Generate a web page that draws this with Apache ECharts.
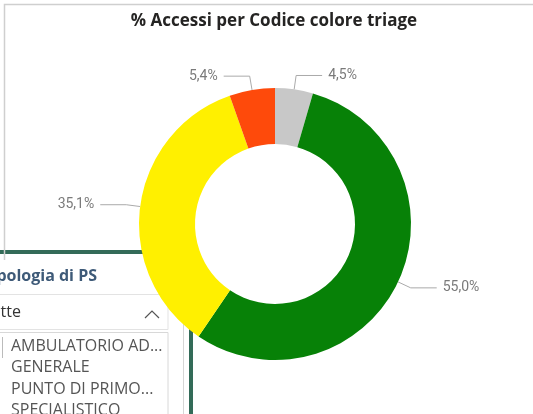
<!DOCTYPE html>
<html>
<head>
<meta charset="utf-8">
<script src="https://cdn.jsdelivr.net/npm/echarts@6/dist/echarts.min.js"></script>
<style>
  html, body { margin: 0; padding: 0; background: #fff; }
  #chart { width: 533px; height: 414px; }
</style>
</head>
<body>
<div id="chart"></div>
<script>
// triage colour codes, clockwise from 12 o'clock
const categories = ['Bianco', 'Verde', 'Giallo', 'Rosso'];
const values = [4.5, 55.0, 35.1, 5.4];
const colors = ['#c8c8c8', '#078107', '#fff000', '#fe4a0b'];

const slicerTitle = 'Tipologia di PS';
const slicerValue = 'Tutte';
const slicerItems = ['AMBULATORIO AD...', 'GENERALE', 'PUNTO DI PRIMO...', 'SPECIALISTICO'];

let chart = echarts.init(document.getElementById('chart'));

let pieData = categories.map((name, i) => ({
    name: name,
    value: values[i],
    itemStyle: { color: colors[i] }
}));

// slicer visual overlapping the donut (bottom left)
let slicer = [
    { type: 'rect', shape: { x: -10, y: 252, width: 201, height: 180 },
      style: { fill: '#fff', stroke: '#336b58', lineWidth: 4 } },
    { type: 'line', shape: { x1: 183.5, y1: 254, x2: 183.5, y2: 414 },
      style: { stroke: '#d6d6d6', lineWidth: 1 } },
    { type: 'text', x: 97, y: 268,
      style: { text: slicerTitle, fill: '#3e5a78', font: 'bold 16px "Open Sans"', textAlign: 'right' } },
    { type: 'rect', shape: { x: -5, y: 294.5, width: 173, height: 35 },
      style: { fill: '#fff', stroke: '#e3e3e3', lineWidth: 1 } },
    { type: 'text', x: 21, y: 304,
      style: { text: slicerValue, fill: '#333', font: '16px "Open Sans"', textAlign: 'right' } },
    { type: 'polyline', shape: { points: [[145, 318], [152, 311], [159, 318]] },
      style: { stroke: '#555', lineWidth: 1.2, fill: null } },
    { type: 'rect', shape: { x: -5, y: 332.5, width: 173, height: 90 },
      style: { fill: '#fff', stroke: '#d8d8d8', lineWidth: 1 } },
    { type: 'line', shape: { x1: 2.5, y1: 337, x2: 2.5, y2: 358 },
      style: { stroke: '#bbb', lineWidth: 1 } }
];
slicerItems.forEach((t, i) => {
    slicer.push({ type: 'text', x: 11, y: 338 + i * 21.5,
        style: { text: t, fill: '#555', font: '16px "Open Sans"' } });
});

let option = {
    animation: false,
    title: {
        text: '% Accessi per Codice colore triage',
        left: 269,
        textAlign: 'center',
        top: 8,
        textStyle: { fontFamily: 'Open Sans', fontWeight: 'bold', fontSize: 17, color: '#252423' }
    },
    graphic: [
        { type: 'polyline', z: 1, shape: { points: [[4.5, 260], [4.5, 4.5], [540, 4.5]] },
          style: { stroke: '#cfcfcf', lineWidth: 1.5, fill: null } },
        { type: 'group', z: 100, children: slicer }
    ],
    series: [{
        type: 'pie',
        center: [275, 224],
        radius: [80, 136],
        startAngle: 90,
        clockwise: true,
        avoidLabelOverlap: false,
        itemStyle: { borderWidth: 0 },
        label: {
            show: true,
            formatter: p => p.value.toFixed(1).replace('.', ',') + '%',
            color: '#7a7a7a',
            fontFamily: 'Roboto',
            fontSize: 14,
            distanceToLabelLine: 6
        },
        labelLine: {
            show: true,
            length: 14,
            length2: 26,
            lineStyle: { color: '#aaa', width: 1 }
        },
        emphasis: { disabled: true },
        data: pieData
    }]
};
chart.setOption(option);
</script>
</body>
</html>
